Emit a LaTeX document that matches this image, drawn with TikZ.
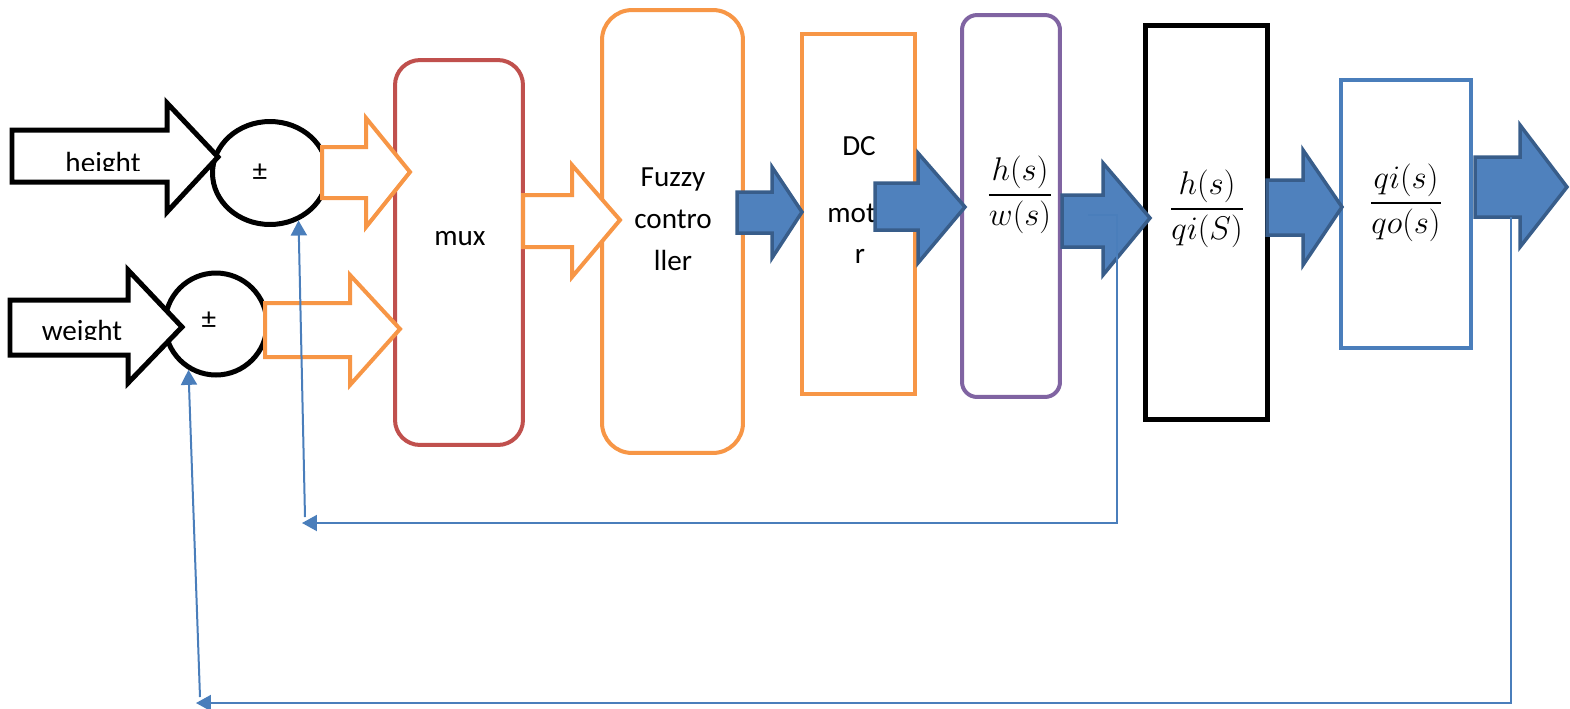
\documentclass[tikz,border=0pt]{standalone}
\usepackage{amsmath}
\usepackage{graphicx}
\usepackage{fontspec}
\setmainfont{Carlito}
\usetikzlibrary{arrows.meta,shapes.geometric,calc}
\definecolor{orng}{HTML}{F79646}
\definecolor{muxred}{HTML}{C0504D}
\definecolor{purp}{HTML}{8064A2}
\definecolor{bfill}{HTML}{4F81BD}
\definecolor{bdark}{HTML}{385D8A}
\definecolor{fbc}{HTML}{4A7EBB}
\newcommand\barrow[9]{\draw[#1] (#2,#5) -- (#3,#5) -- (#3,#7) -- (#4,#9) -- (#3,#8) -- (#3,#6) -- (#2,#6) -- cycle;}
\newcommand\myfrac[2]{\scalebox{1.08}{$\dfrac{#1}{#2}$}}
\begin{document}
\begin{tikzpicture}[x=0.02cm,y=-0.02cm,
  font=\fontsize{16.6}{23.8}\selectfont,
  box/.style={draw, line width=0.8mm, fill=white, inner sep=0pt},
  sumnode/.style={ellipse, draw=black, line width=1mm, fill=white, inner sep=0pt},
  txt/.style={inner sep=0pt},
  mfrac/.style={inner sep=0pt, font=\fontsize{17.28}{21}\selectfont},
  oarrow/.style={draw=orng, fill=white, line width=0.8mm, miter limit=10},
  barw/.style={draw=bdark, fill=bfill, line width=0.7mm},
  karrow/.style={draw=black, fill=white, line width=1mm},
  fb/.style={draw=fbc, line width=0.4mm, -{Triangle[length=0.3cm,width=0.32cm]}}]
\useasboundingbox (0,0) rectangle (1570,708);

% boxes
\node[box, draw=muxred, rounded corners=0.5cm, minimum width=2.56cm, minimum height=7.7cm] (mux) at (459,252.5) {};
\node[box, draw=orng, rounded corners=0.6cm, minimum width=2.82cm, minimum height=8.86cm] (fuzzy) at (672.5,231.5) {};
\node[box, draw=orng, minimum width=2.26cm, minimum height=7.2cm] (dc) at (858.5,214) {};
\node[box, draw=purp, rounded corners=0.3cm, minimum width=1.96cm, minimum height=7.64cm] (hw) at (1011,206) {};
\node[box, draw=black, line width=1mm, minimum width=2.46cm, minimum height=7.9cm] (hq) at (1206.5,222.5) {};
\node[box, draw=fbc, minimum width=2.6cm, minimum height=5.36cm] (qq) at (1406,214) {};

% summing junctions
\node[sumnode, minimum width=2.3cm, minimum height=2.06cm] (sum1) at (270,173) {};
\node[sumnode, minimum width=2.04cm, minimum height=2.04cm] (sum2) at (216,324) {};
\node[txt] (pm1) at (260,172) {±};
\node[txt] (pm2) at (209,320) {±};

% input arrows
\barrow{karrow}{12}{167}{218}{130}{182}{103}{212}{157}
\barrow{karrow}{10}{128}{182}{300}{355}{270}{383}{327}
\begin{scope}
\clip (30,140) rectangle (165,170);
\node[txt, anchor=base] (hlabel) at (103,172) {height};
\end{scope}
\begin{scope}
\clip (20,310) rectangle (127,339.5);
\node[txt, anchor=base] (wlabel) at (82,340) {weight};
\end{scope}

% orange arrows
\barrow{oarrow}{322}{366}{410}{147}{198}{118}{227}{172}
\barrow{oarrow}{265}{350}{400}{303}{357}{275}{385}{329}
\barrow{oarrow}{523}{572}{620}{195}{247}{165}{277}{220}

% texts in boxes
\node[txt, anchor=base] (muxlabel) at (460,245) {mux};
\node[txt, align=center] (fuzzylabel) at (673,219) {Fuzzy\\contro\\ller};
\node[txt, anchor=base] (dc1) at (859,155) {DC};
\node[txt, anchor=base west] (dc2) at (827,222) {mot};
\node[txt, anchor=base] (dc3) at (860,263) {r};

% blue arrows
\barrow{barw}{737}{772}{802}{192}{233}{167}{258}{212}
\barrow{barw}{875}{918}{965}{183}{230}{153}{263}{207}
\barrow{barw}{1062}{1103}{1150}{195}{247}{163}{275}{218}
\barrow{barw}{1267}{1303}{1342}{180}{235}{150}{265}{207}
\barrow{barw}{1475}{1520}{1567}{157}{217}{125}{247}{187}

% transfer functions
\node[mfrac] (tf1) at (1020,195) {\myfrac{h(s)}{w(s)}};
\node[mfrac] (tf2) at (1207,209) {\myfrac{h(s)}{qi(S)}};
\node[mfrac] (tf3) at (1406,203) {\myfrac{qi(s)}{qo(s)}};

% feedback paths
\coordinate (f1a) at (1088,215);
\coordinate (f1b) at (1117,215);
\coordinate (f1c) at (1117,523);
\coordinate (f1d) at (302,523);
\coordinate (f1e) at (305,517);
\draw[fb] (f1a) -- (f1b) -- (f1c) -- (f1d);
\draw[fb] (f1e) -- (sum1.-59);
\coordinate (f2a) at (1511,217);
\coordinate (f2b) at (1511,703);
\coordinate (f2c) at (196,703);
\coordinate (f2d) at (200,697);
\draw[fb] (f2a) -- (f2b) -- (f2c);
\draw[fb] (f2d) -- (sum2.-121);
\end{tikzpicture}
\end{document}
